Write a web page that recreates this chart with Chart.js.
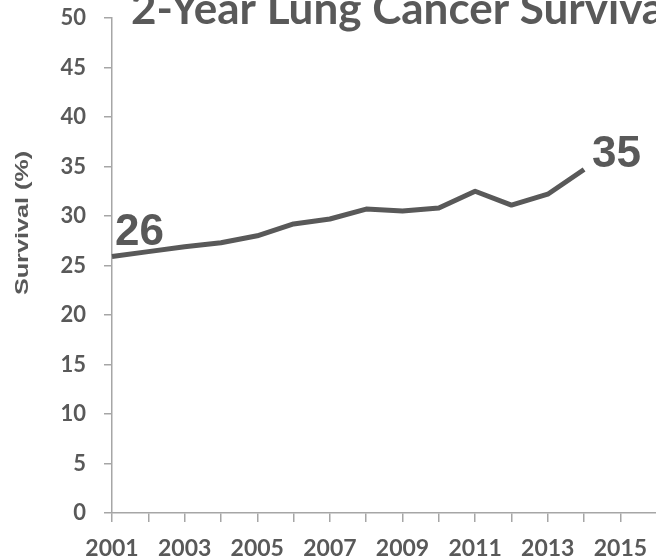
<!DOCTYPE html>
<html>
<head>
<meta charset="utf-8">
<script src="https://cdn.jsdelivr.net/npm/chart.js@4"></script>
<style>
html, body { margin: 0; padding: 0; overflow: hidden; background: #fff; }
canvas { display: block; }
</style>
</head>
<body>
<canvas id="myChart" width="700" height="558"></canvas>
<script>
"use strict";

const years = ['2001', '2002', '2003', '2004', '2005', '2006', '2007', '2008', '2009',
    '2010', '2011', '2012', '2013', '2014', '2015', '2016', '2017'];
const survival = [25.9, 26.4, 26.9, 27.3, 28.0, 29.2, 29.7, 30.7, 30.5, 30.8, 32.5, 31.1, 32.2, 34.7];
const titleText = '2-Year Lung Cancer Survival';
const yAxisTitle = 'Survival (%)';
const firstLabel = '26';
const lastLabel = '35';

const textColor = '#595959';
const axisColor = '#a6a6a6';

// title, rotated axis title and the two end-point numbers
const textPlugin = {
    id: 'textPlugin',
    afterDraw(chart) {
        const ctx = chart.ctx;
        const xs = chart.scales.x;
        const ys = chart.scales.y;
        ctx.save();
        ctx.fillStyle = textColor;
        ctx.textBaseline = 'alphabetic';
        ctx.textAlign = 'left';

        ctx.font = 'bold 44px Lato';
        ctx.fillText(titleText, 131, 24);

        ctx.font = 'bold 44px "Liberation Sans", Arial, sans-serif';
        let last = survival.length - 1;
        ctx.fillText(firstLabel, xs.getPixelForValue(0) + 3, ys.getPixelForValue(survival[0]) - 12);
        ctx.fillText(lastLabel, xs.getPixelForValue(last) + 8, ys.getPixelForValue(survival[last]) - 2);

        ctx.translate(28, 223);
        ctx.rotate(-Math.PI / 2);
        ctx.scale(1.4, 1);
        ctx.textAlign = 'center';
        ctx.font = 'bold 18px "Liberation Sans", Arial, sans-serif';
        ctx.fillText(yAxisTitle, 0, 0);
        ctx.restore();
    }
};

function createConfig() {
    return {
        type: 'line',
        data: {
            labels: years,
            datasets: [{
                data: survival,
                borderColor: textColor,
                borderWidth: 5,
                pointRadius: 0,
                tension: 0,
                fill: false,
                borderJoinStyle: 'round',
            }]
        },
        options: {
            responsive: false,
            animation: false,
            devicePixelRatio: 1,
            layout: { padding: { top: 18, right: 7, left: 0, bottom: 0 } },
            plugins: {
                legend: { display: false },
                tooltip: { enabled: false },
                title: { display: false },
            },
            scales: {
                x: {
                    offset: false,
                    afterFit(scale) {
                        scale.height = 45;
                        scale.paddingLeft = 0;
                        scale.paddingRight = 0;
                    },
                    grid: {
                        drawOnChartArea: false,
                        drawTicks: true,
                        tickLength: 9,
                        color: axisColor,
                        lineWidth: 1.5,
                    },
                    border: { color: axisColor, width: 1.5 },
                    ticks: {
                        autoSkip: false,
                        maxRotation: 0,
                        padding: 13,
                        color: textColor,
                        font: { family: 'Lato', weight: 'bold', size: 23 },
                        callback: (value, index) => (index % 2 === 0 && index < 15) ? years[index] : '',
                    },
                },
                y: {
                    min: 0,
                    max: 50,
                    afterFit(scale) {
                        scale.width = 112;
                        scale.paddingTop = 0;
                        scale.paddingBottom = 0;
                    },
                    grid: {
                        drawOnChartArea: false,
                        drawTicks: true,
                        tickLength: 8,
                        color: axisColor,
                        lineWidth: 1.5,
                    },
                    border: { color: axisColor, width: 1.5 },
                    ticks: {
                        stepSize: 5,
                        padding: 18,
                        color: textColor,
                        font: { family: 'Lato', weight: 'bold', size: 22 },
                    },
                },
            }
        },
        plugins: [textPlugin],
    };
}

new Chart(document.getElementById('myChart'), createConfig());
</script>
</body>
</html>
